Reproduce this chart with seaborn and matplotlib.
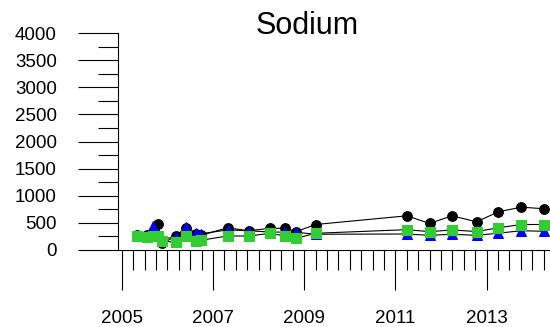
import numpy as np
import pandas as pd
import matplotlib
matplotlib.use("Agg")
import matplotlib.pyplot as plt
import seaborn as sns

# sample dates (decimal years) and sodium values per series
dates = [2005.34, 2005.55, 2005.68, 2005.80, 2005.88, 2006.18, 2006.41,
         2006.63, 2006.74, 2007.32, 2007.78, 2008.26, 2008.58, 2008.83,
         2009.25, 2011.25, 2011.75, 2012.24, 2012.78, 2013.26, 2013.76,
         2014.26]
black_vals = [270, 280, 330, 480, 120, 250, 400, 300, 270, 410, 355, 400,
              400, 340, 470, 630, 490, 630, 520, 705, 790, 760]
blue_vals = [270, 260, 440, 300, 200, 240, 430, 310, 300, 370, 355, 330,
             330, 326, 290, 295, 270, 290, 270, 310, 355, 345]
green_vals = [258, 240, 250, 260, 170, 140, 265, 170, 180, 258, 258, 308,
              258, 216, 308, 375, 338, 370, 340, 410, 470, 470]

year_labels = [2005, 2007, 2009, 2011, 2013]

sns.set_style("white")
plt.rcParams["font.family"] = ["Liberation Sans", "DejaVu Sans"]
plt.rcParams["text.color"] = "black"
plt.rcParams["xtick.color"] = "black"
plt.rcParams["ytick.color"] = "black"

fig = plt.figure(figsize=(5.5, 3.27), dpi=100)
ax = fig.add_axes([118 / 550, 77 / 327, 432 / 550, 217 / 327])

series = [
    (black_vals, "o", "black", 7),
    (blue_vals, "^", "#0000FF", 7),
    (green_vals, "s", "#32CD32", 7.5),
]
for vals, mk, col, ms in series:
    df = pd.DataFrame({"date": dates, "value": vals})
    sns.lineplot(data=df, x="date", y="value", ax=ax, color="black",
                 linewidth=0.8, marker=mk, markersize=ms,
                 markerfacecolor=col, markeredgecolor=col,
                 sort=False, clip_on=False)

ax.set_xlim(2004.919, 2014.389)
ax.set_ylim(0, 4000)

ax.set_yticks(np.arange(0, 4001, 500))
ax.set_yticks(np.arange(250, 4000, 500), minor=True)
ax.set_xticks(year_labels)
ax.set_xticklabels([str(y) for y in year_labels])
ax.set_xticks(np.arange(2005, 2014.3, 0.25), minor=True)

ax.tick_params(axis="both", which="major", direction="out", length=29,
               width=0.8, colors="black", labelsize=13.5, pad=14)
ax.tick_params(axis="both", which="minor", direction="out", length=14.4,
               width=0.8, colors="black")
ax.tick_params(axis="y", which="major", pad=15)
ax.tick_params(left=True, bottom=True, which="both")

for s in ["top", "right"]:
    ax.spines[s].set_visible(False)
for s in ["left", "bottom"]:
    ax.spines[s].set_color("black")
    ax.spines[s].set_linewidth(0.8)

ax.set_xlabel("")
ax.set_ylabel("")

fig.text(307.5 / 550, 1 - 34 / 327, "Sodium", ha="center", va="baseline",
         fontsize=22, color="black")

fig.savefig("out.png", dpi=100)
plt.close(fig)
